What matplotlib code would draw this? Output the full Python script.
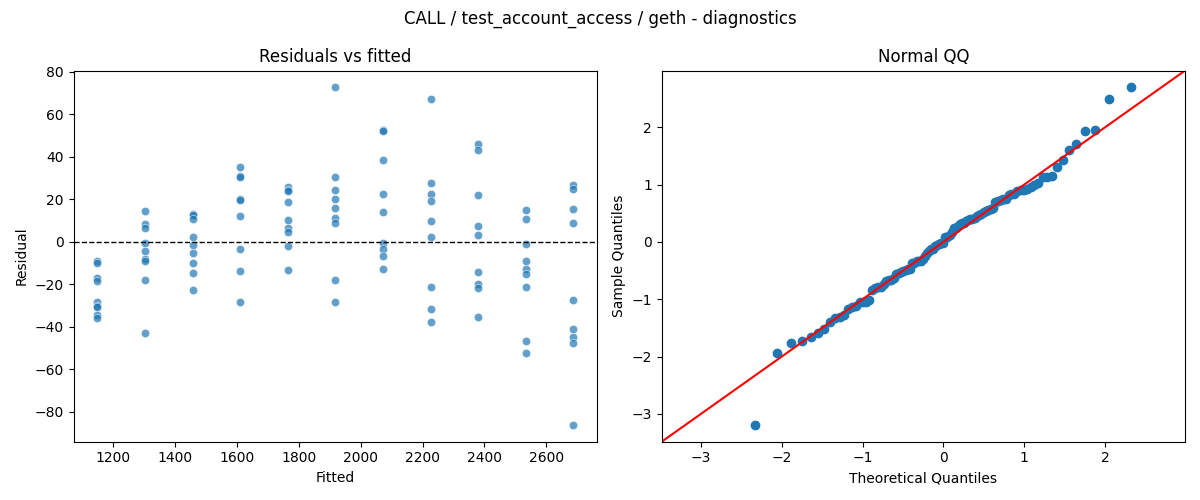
import numpy as np
import seaborn as sns
from statistics import NormalDist
from matplotlib import pyplot as plt

TITLE = "CALL / test_account_access / geth - diagnostics"

# fitted value of each group, then the residuals
FITTED = [1148, 1303, 1456, 1611, 1766, 1918, 2073, 2226, 2381, 2536, 2687]
RESID = [
    [-9.2, -9.8, -16.9, -18.5, -28.5, -30.0, -30.8, -34.4, -35.8],
    [14.4, 8.5, 6.6, -0.5, -4.4, -8.2, -8.8, -18.0, -42.9],
    [13.3, 12.4, 10.8, 2.3, -1.6, -5.3, -10.0, -14.7, -22.7],
    [35.1, 31.0, 30.4, 20.1, 19.6, 12.1, -3.6, -13.8, -28.3],
    [25.7, 24.3, 23.9, 18.6, 10.2, 6.6, 4.5, -2.0, -13.1],
    [72.6, 30.5, 24.3, 20.0, 15.8, 11.3, 8.9, -18.0, -28.3],
    [52.7, 52.3, 38.3, 22.4, 13.9, -0.6, -3.3, -6.6, -12.8],
    [67.0, 27.5, 22.4, 19.2, 9.7, 2.3, -21.3, -31.6, -37.7],
    [46.0, 43.0, 21.9, 7.4, 3.1, -14.2, -20.0, -21.7, -35.2],
    [14.9, 10.6, -1.1, -9.1, -12.8, -15.0, -21.3, -46.6, -52.3],
    [26.6, 24.7, 15.3, 8.8, -27.4, -41.0, -44.7, -47.5, -86.1],
]

fitted = []
resid = []
for f, rs in zip(FITTED, RESID):
    for r in rs:
        fitted.append(f)
        resid.append(r)
fitted = np.array(fitted, dtype=float)
resid = np.array(resid)

fig, (ax1, ax2) = plt.subplots(1, 2, figsize=(12, 5), dpi=100)

sns.scatterplot(x=fitted, y=resid, alpha=0.7, ax=ax1)
ax1.axhline(0, color='black', linestyle='--', linewidth=1)
ax1.set_xlabel("Fitted")
ax1.set_ylabel("Residual")
ax1.set_title("Residuals vs fitted")

# normal QQ like statsmodels qqplot(fit=True, line='45')
n = len(resid)
sample = np.sort((resid - resid.mean()) / resid.std())
nd = NormalDist()
theo = np.array([nd.inv_cdf(i / (n + 1)) for i in range(1, n + 1)])
ax2.plot(theo, sample, 'o', color='C0', markersize=6)
xl = ax2.get_xlim()
yl = ax2.get_ylim()
lo = min(xl[0], yl[0])
hi = max(xl[1], yl[1])
ax2.plot([lo, hi], [lo, hi], color='red')
ax2.set_xlim(lo, hi)
ax2.set_ylim(lo, hi)
ax2.set_xlabel("Theoretical Quantiles")
ax2.set_ylabel("Sample Quantiles")
ax2.set_title("Normal QQ")

fig.suptitle(TITLE)
plt.tight_layout()
plt.savefig("out.png")
